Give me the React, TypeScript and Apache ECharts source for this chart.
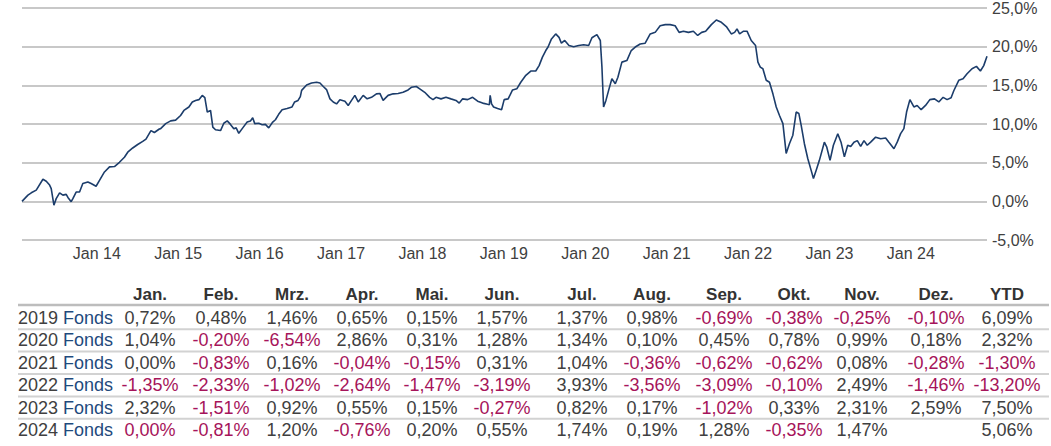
import React, { useEffect, useRef } from "react";
import * as echarts from "echarts";

// ---- Chart data: cumulative fund performance (%), x as decimal year ----
const fundYears = [
  2013.081, 2013.154, 2013.195, 2013.256, 2013.338, 2013.379, 2013.42, 2013.44, 2013.473, 2013.501,
  2013.543, 2013.583, 2013.624, 2013.645, 2013.685, 2013.706, 2013.746, 2013.788, 2013.828, 2013.89,
  2013.93, 2013.991, 2014.033, 2014.094, 2014.156, 2014.217, 2014.278, 2014.339, 2014.38, 2014.441,
  2014.502, 2014.564, 2014.604, 2014.665, 2014.707, 2014.768, 2014.784, 2014.846, 2014.907, 2014.968,
  2015.029, 2015.07, 2015.131, 2015.173, 2015.213, 2015.254, 2015.295, 2015.327, 2015.357, 2015.397,
  2015.425, 2015.458, 2015.52, 2015.56, 2015.602, 2015.642, 2015.683, 2015.712, 2015.744, 2015.793,
  2015.847, 2015.887, 2015.915, 2015.94, 2015.989, 2016.031, 2016.071, 2016.112, 2016.161, 2016.194,
  2016.234, 2016.276, 2016.337, 2016.398, 2016.43, 2016.472, 2016.5, 2016.516, 2016.577, 2016.638,
  2016.7, 2016.741, 2016.782, 2016.822, 2016.864, 2016.904, 2016.945, 2016.986, 2017.048, 2017.088,
  2017.129, 2017.17, 2017.211, 2017.272, 2017.321, 2017.374, 2017.435, 2017.477, 2017.517, 2017.578,
  2017.64, 2017.701, 2017.762, 2017.824, 2017.864, 2017.925, 2017.967, 2018.028, 2018.089, 2018.13,
  2018.167, 2018.228, 2018.289, 2018.35, 2018.412, 2018.452, 2018.494, 2018.555, 2018.616, 2018.678,
  2018.739, 2018.8, 2018.822, 2018.832, 2018.849, 2018.874, 2018.923, 2018.972, 2019.004, 2019.053,
  2019.107, 2019.159, 2019.208, 2019.27, 2019.331, 2019.392, 2019.433, 2019.474, 2019.515, 2019.543,
  2019.585, 2019.637, 2019.678, 2019.707, 2019.748, 2019.8, 2019.858, 2019.919, 2019.98, 2020.042,
  2020.082, 2020.143, 2020.185, 2020.205, 2020.225, 2020.254, 2020.287, 2020.327, 2020.369, 2020.401,
  2020.45, 2020.511, 2020.565, 2020.614, 2020.675, 2020.736, 2020.798, 2020.859, 2020.92, 2020.982,
  2021.043, 2021.104, 2021.153, 2021.206, 2021.267, 2021.328, 2021.381, 2021.43, 2021.479, 2021.512,
  2021.549, 2021.61, 2021.672, 2021.733, 2021.794, 2021.835, 2021.864, 2021.896, 2021.945, 2021.987,
  2022.039, 2022.092, 2022.121, 2022.15, 2022.182, 2022.223, 2022.263, 2022.305, 2022.346, 2022.386,
  2022.428, 2022.468, 2022.508, 2022.55, 2022.591, 2022.624, 2022.652, 2022.692, 2022.734, 2022.775,
  2022.803, 2022.836, 2022.876, 2022.937, 2022.967, 2023.007, 2023.048, 2023.102, 2023.142, 2023.183,
  2023.224, 2023.261, 2023.301, 2023.342, 2023.383, 2023.424, 2023.464, 2023.506, 2023.567, 2023.629,
  2023.69, 2023.73, 2023.792, 2023.832, 2023.874, 2023.914, 2023.947, 2023.988, 2024.037, 2024.077,
  2024.126, 2024.18, 2024.233, 2024.29, 2024.343, 2024.396, 2024.445, 2024.494, 2024.527, 2024.588,
  2024.641, 2024.69, 2024.751, 2024.805, 2024.854, 2024.895, 2024.935,
];
const fundValues = [
  0, 0.8, 1.1, 1.45, 2.85, 2.6, 2.1, 1.65, -0.5, 0.35,
  1.1, 0.8, 0.9, 0.5, -0.05, 0.35, 1.2, 1.2, 2.3, 2.5,
  2.3, 1.95, 2.7, 3.8, 4.45, 4.5, 5.05, 5.7, 6.35, 6.9,
  7.35, 7.75, 8.05, 9.15, 8.9, 9.35, 9.4, 10.05, 10.4, 10.5,
  11.1, 11.75, 12.2, 12.85, 13.05, 13.15, 13.7, 13.4, 11.55, 11.75,
  9.6, 9.25, 9.15, 10.1, 10.4, 9.95, 9.4, 9.5, 8.8, 9.5,
  10.25, 10.4, 10.8, 10.05, 10.1, 9.9, 9.95, 9.5, 10.25, 10.55,
  11.25, 11.85, 12.0, 12.2, 12.85, 13.05, 13.55, 14.35, 15.05, 15.3,
  15.4, 15.3, 14.85, 14.45, 13.25, 12.85, 12.6, 13.15, 12.95, 12.4,
  13.05, 13.7, 12.85, 13.7, 13.25, 13.45, 13.9, 13.95, 13.05, 13.7,
  13.9, 13.95, 14.1, 14.4, 14.75, 14.85, 14.55, 14.1, 13.45, 13.15,
  13.45, 13.25, 13.45, 13.25, 13.05, 12.7, 13.25, 13.15, 13.45, 12.95,
  12.7, 12.55, 12.5, 13.7, 12.6, 12.2, 12.0, 11.85, 13.15, 13.25,
  14.4, 14.55, 15.4, 16.3, 16.85, 16.85, 17.55, 18.65, 19.5, 19.95,
  21.0, 21.65, 21.2, 20.45, 20.8, 20.15, 20.0, 20.15, 20.25, 20.15,
  21.15, 21.55, 20.8, 17.35, 12.2, 13.05, 14.35, 15.85, 15.2, 16.05,
  18.0, 18.2, 19.5, 19.95, 20.35, 20.45, 21.65, 21.85, 22.7, 22.85,
  22.85, 22.7, 21.85, 22.0, 21.85, 22.0, 21.45, 21.85, 22.0, 22.4,
  22.85, 23.45, 23.15, 22.6, 21.65, 21.85, 22.3, 21.65, 22.0, 22.0,
  20.8, 20.15, 18.0, 17.35, 17.15, 15.65, 15.4, 13.9, 12.2, 11.1,
  10.05, 6.2, 7.45, 8.55, 11.55, 11.35, 9.85, 7.45, 5.5, 4.0,
  2.95, 4.0, 5.3, 7.65, 7.0, 5.3, 7.25, 8.75, 7.65, 5.75,
  7.25, 7.1, 7.65, 7.85, 7.1, 7.85, 7.25, 7.65, 8.3, 8.1,
  8.2, 7.65, 6.8, 7.65, 8.75, 9.4, 11.55, 13.15, 12.2, 12.4,
  11.85, 12.4, 13.15, 13.25, 12.85, 13.45, 13.15, 13.4, 14.3, 15.65,
  15.85, 16.5, 17.15, 17.45, 16.85, 17.55, 18.75,
];
const xTickYears = [2014, 2015, 2016, 2017, 2018, 2019, 2020, 2021, 2022, 2023, 2024];

// ---- Table data: monthly returns (%) ----
const monthHeaders = ["Jan.", "Feb.", "Mrz.", "Apr.", "Mai.", "Jun.", "Jul.", "Aug.", "Sep.", "Okt.", "Nov.", "Dez.", "YTD"];
const tableYears = ["2019", "2020", "2021", "2022", "2023", "2024"];
const seriesLabel = "Fonds";
const returns2019 = [0.72, 0.48, 1.46, 0.65, 0.15, 1.57, 1.37, 0.98, -0.69, -0.38, -0.25, -0.1, 6.09];
const returns2020 = [1.04, -0.2, -6.54, 2.86, 0.31, 1.28, 1.34, 0.1, 0.45, 0.78, 0.99, 0.18, 2.32];
const returns2021 = [0.0, -0.83, 0.16, -0.04, -0.15, 0.31, 1.04, -0.36, -0.62, -0.62, 0.08, -0.28, -1.3];
const returns2022 = [-1.35, -2.33, -1.02, -2.64, -1.47, -3.19, 3.93, -3.56, -3.09, -0.1, 2.49, -1.46, -13.2];
const returns2023 = [2.32, -1.51, 0.92, 0.55, 0.15, -0.27, 0.82, 0.17, -1.02, 0.33, 2.31, 2.59, 7.5];
const returns2024 = [-0, -0.81, 1.2, -0.76, 0.2, 0.55, 1.74, 0.19, 1.28, -0.35, 1.47, null, 5.06];
const tableRows = [returns2019, returns2020, returns2021, returns2022, returns2023, returns2024];

// ---- Layout / style ----
const FONT = '"Liberation Sans", Arial, sans-serif';
const LINE_COLOR = "#1c3d6b";
const FONDS_COLOR = "#1f4a7d";
const NEG_COLOR = "#a6145a";
const TEXT_COLOR = "#404040";
const colX = [150, 221, 292, 362, 432, 502, 582, 652, 724, 794, 862, 936, 1007];
const headerY = 294;
const rowY0 = 318;
const rowH = 22.4;

const fmt = (v: number) => v.toFixed(2).replace(".", ",") + "%";
const isNeg = (v: number) => v < 0 || Object.is(v, -0);

export default function App() {
  const ref = useRef<HTMLDivElement>(null);

  useEffect(() => {
    if (!ref.current) return;
    const chart = echarts.init(ref.current, undefined, { renderer: "svg" });

    const graphics: any[] = [];
    // header line and row separators
    graphics.push({
      type: "line",
      shape: { x1: 18, y1: 305, x2: 1049, y2: 305 },
      style: { stroke: "#bdbdbd", lineWidth: 2.5 },
      silent: true,
    });
    for (let r = 0; r < tableYears.length - 1; r++) {
      const y = rowY0 + rowH * r + 11.2;
      graphics.push({
        type: "line",
        shape: { x1: 18, y1: y, x2: 1049, y2: y },
        style: { stroke: "#d2d2d2", lineWidth: 2 },
        silent: true,
      });
    }
    monthHeaders.forEach((h, i) => {
      graphics.push({
        type: "text",
        x: colX[i],
        y: headerY,
        style: {
          text: h,
          fill: "#333333",
          fontSize: 17,
          fontWeight: "bold",
          fontFamily: FONT,
          textAlign: "center",
          textVerticalAlign: "middle",
        },
      });
    });
    tableYears.forEach((yr, r) => {
      const y = rowY0 + rowH * r;
      graphics.push({
        type: "text",
        x: 18,
        y,
        style: { text: yr, fill: TEXT_COLOR, fontSize: 18, fontFamily: FONT, textAlign: "left", textVerticalAlign: "middle" },
      });
      graphics.push({
        type: "text",
        x: 63,
        y,
        style: { text: seriesLabel, fill: FONDS_COLOR, fontSize: 18, fontFamily: FONT, textAlign: "left", textVerticalAlign: "middle" },
      });
      tableRows[r].forEach((v, i) => {
        if (v === null || v === undefined) return;
        graphics.push({
          type: "text",
          x: colX[i],
          y,
          style: {
            text: fmt(v),
            fill: isNeg(v) ? NEG_COLOR : TEXT_COLOR,
            fontSize: 18,
            fontFamily: FONT,
            textAlign: "center",
            textVerticalAlign: "middle",
          },
        });
      });
    });

    chart.setOption({
      animation: false,
      backgroundColor: "#ffffff",
      grid: { left: 22, right: 64, top: 7, bottom: 206, containLabel: false },
      xAxis: {
        type: "value",
        min: fundYears[0],
        max: fundYears[fundYears.length - 1],
        axisLine: { show: false },
        axisTick: { show: false },
        splitLine: { show: false },
        axisLabel: {
          customValues: xTickYears,
          formatter: (v: number) => "Jan " + String(Math.round(v) % 100).padStart(2, "0"),
          color: TEXT_COLOR,
          fontSize: 16,
          fontFamily: FONT,
          margin: 5,
        },
      },
      yAxis: {
        type: "value",
        position: "right",
        min: -5,
        max: 25,
        interval: 5,
        axisLine: { show: false },
        axisTick: { show: false },
        splitLine: { show: true, lineStyle: { color: "#c8c8c8", width: 2 } },
        axisLabel: {
          formatter: (v: number) => v.toFixed(1).replace(".", ",") + "%",
          color: TEXT_COLOR,
          fontSize: 16,
          fontFamily: FONT,
          margin: 5,
          align: "left",
        },
      },
      series: [
        {
          type: "line",
          data: fundYears.map((x, i) => [x, fundValues[i]]),
          showSymbol: false,
          lineStyle: { color: LINE_COLOR, width: 1.6 },
          itemStyle: { color: LINE_COLOR },
          silent: true,
        },
      ],
      graphic: graphics,
    });

    return () => chart.dispose();
  }, []);

  return (
    <div
      ref={ref}
      style={{ position: "fixed", left: 0, top: 0, width: 1051, height: 446, background: "#fff" }}
    />
  );
}
